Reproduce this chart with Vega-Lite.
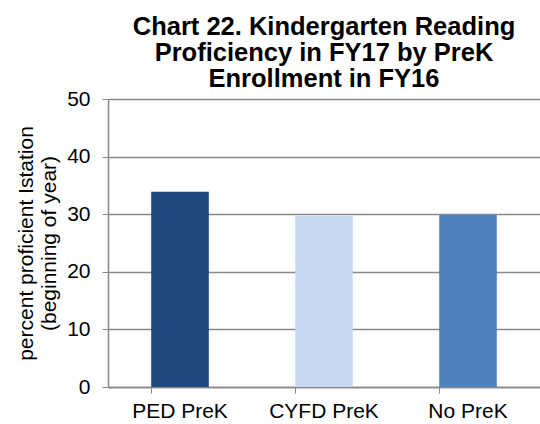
{
  "$schema": "https://vega.github.io/schema/vega-lite/v6.json",
  "width": 432,
  "height": 288,
  "autosize": {"type": "none"},
  "padding": {"left": 108, "top": 99, "right": 0, "bottom": 37},
  "background": "white",
  "title": {
    "text": ["Chart 22. Kindergarten Reading", "Proficiency in FY17 by PreK", "Enrollment in FY16"],
    "font": "Liberation Sans",
    "fontSize": 25.5,
    "fontWeight": "bold",
    "color": "#000000",
    "lineHeight": 26,
    "anchor": "middle",
    "offset": -4
  },
  "data": {
    "values": [
      {"group": "PED PreK", "value": 33.9},
      {"group": "CYFD PreK", "value": 29.7},
      {"group": "No PreK", "value": 29.9}
    ]
  },
  "mark": {"type": "bar"},
  "encoding": {
    "x": {
      "field": "group",
      "type": "nominal",
      "sort": null,
      "scale": {"paddingInner": 0.6, "paddingOuter": 0.3},
      "axis": {
        "title": null,
        "labelAngle": 0,
        "labelFont": "Liberation Sans",
        "labelFontSize": 21,
        "labelColor": "#000000",
        "labelPadding": 7,
        "bandPosition": 0,
        "tickColor": "#888888",
        "tickSize": 6,
        "domainColor": "#888888",
        "domainWidth": 1.5,
        "grid": false
      }
    },
    "y": {
      "field": "value",
      "type": "quantitative",
      "scale": {"domain": [0, 50]},
      "axis": {
        "values": [0, 10, 20, 30, 40, 50],
        "title": ["percent proficient Istation", "(beginning of year)"],
        "titleFont": "Liberation Sans",
        "titleFontSize": 21,
        "titleFontWeight": "normal",
        "titleColor": "#000000",
        "titleLineHeight": 23,
        "titlePadding": 7,
        "labelFont": "Liberation Sans",
        "labelFontSize": 21,
        "labelColor": "#000000",
        "labelPadding": 12,
        "tickColor": "#888888",
        "tickSize": 6,
        "domainColor": "#888888",
        "domainWidth": 1.5,
        "grid": true,
        "gridColor": "#888888",
        "gridWidth": 1.5
      }
    },
    "color": {
      "field": "group",
      "type": "nominal",
      "sort": null,
      "scale": {"domain": ["PED PreK", "CYFD PreK", "No PreK"], "range": ["#1F497D", "#C6D9F1", "#4F81BD"]},
      "legend": null
    }
  },
  "config": {"view": {"stroke": null}}
}
